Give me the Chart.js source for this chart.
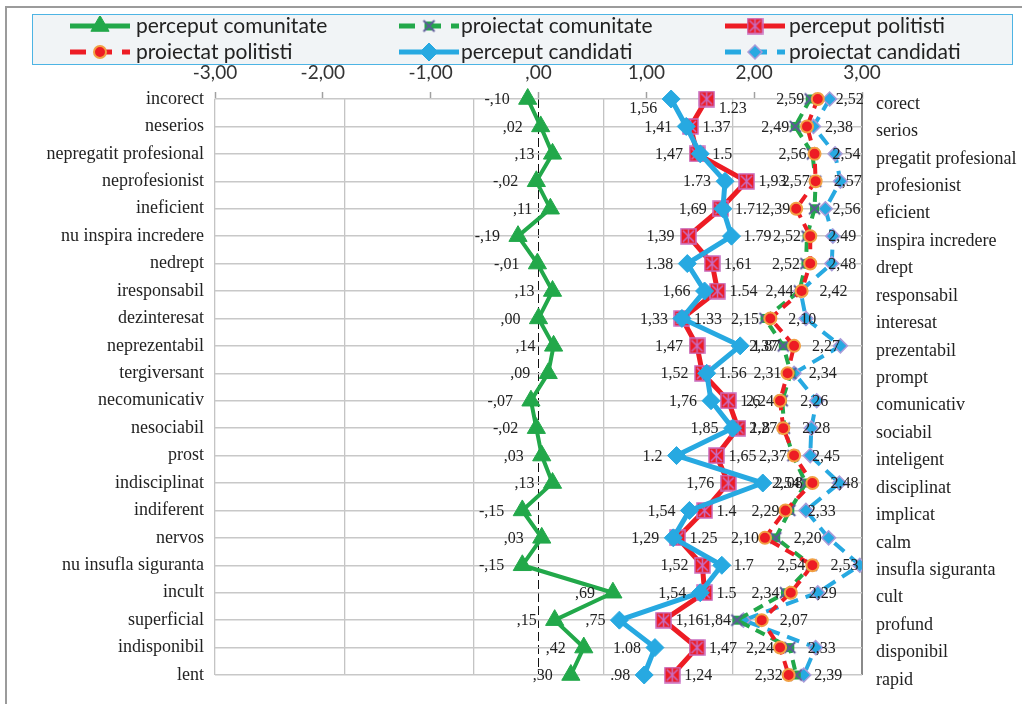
<!DOCTYPE html>
<html>
<head>
<meta charset="utf-8">
<title>Profil semantic</title>
<script src="https://cdn.jsdelivr.net/npm/chart.js@4.4.1/dist/chart.umd.min.js"></script>
<style>
    body { margin: 0; background: #fff; }
    #wrap { position: relative; width: 1022px; height: 704px; overflow: hidden; }
    #frame {
        position: absolute; left: 5px; top: 6px; width: 1040px; height: 740px;
        border-top: 2px solid #9b9b9b; border-left: 2px solid #9b9b9b;
    }
    #chart { position: absolute; left: 0; top: 0; }
    #legend {
        position: absolute; left: 32px; top: 14px; width: 981px; height: 51px;
        box-sizing: border-box; border: 1.5px solid #4db4e4; background: #f1f4f6;
        font-family: Lato, "Open Sans", sans-serif; font-size: 21px; color: #222;
    }
    .legend-item { position: absolute; height: 24px; }
    .legend-item canvas { position: absolute; left: 0; top: 1px; }
    .legend-item span { position: absolute; top: -2px; line-height: 24px; white-space: nowrap; }
</style>
</head>
<body>
<div id="wrap">
    <div id="frame"></div>
    <canvas id="chart" width="1022" height="704"></canvas>
    <div id="legend"></div>
</div>
<script>
// --- Date ---
const leftLabels = ['incorect', 'neserios', 'nepregatit profesional', 'neprofesionist', 'ineficient',
    'nu inspira incredere', 'nedrept', 'iresponsabil', 'dezinteresat', 'neprezentabil', 'tergiversant',
    'necomunicativ', 'nesociabil', 'prost', 'indisciplinat', 'indiferent', 'nervos',
    'nu insufla siguranta', 'incult', 'superficial', 'indisponibil', 'lent'];
const rightLabels = ['corect', 'serios', 'pregatit profesional', 'profesionist', 'eficient',
    'inspira incredere', 'drept', 'responsabil', 'interesat', 'prezentabil', 'prompt',
    'comunicativ', 'sociabil', 'inteligent', 'disciplinat', 'implicat', 'calm',
    'insufla siguranta', 'cult', 'profund', 'disponibil', 'rapid'];

const xTicks = [-3, -2, -1, 0, 1, 2, 3];

const percComunitate = [-0.10, 0.02, 0.13, -0.02, 0.11, -0.19, -0.01, 0.13, 0.00, 0.14, 0.09,
    -0.07, -0.02, 0.03, 0.13, -0.15, 0.03, -0.15, 0.69, 0.15, 0.42, 0.30];
const percPolitisti = [1.56, 1.41, 1.47, 1.93, 1.69, 1.39, 1.61, 1.66, 1.33, 1.47, 1.52,
    1.76, 1.85, 1.65, 1.76, 1.54, 1.29, 1.52, 1.54, 1.16, 1.47, 1.24];
const percCandidati = [1.23, 1.37, 1.50, 1.73, 1.71, 1.79, 1.38, 1.54, 1.33, 1.87, 1.56,
    1.60, 1.80, 1.28, 2.08, 1.40, 1.25, 1.70, 1.50, 0.75, 1.08, 0.98];
const projPolitisti = [2.59, 2.49, 2.56, 2.57, 2.39, 2.52, 2.52, 2.44, 2.15, 2.37, 2.31,
    2.24, 2.27, 2.37, 2.54, 2.29, 2.10, 2.54, 2.34, 2.07, 2.24, 2.32];
const projComunitate = [2.52, 2.38, 2.54, 2.57, 2.56, 2.49, 2.48, 2.42, 2.10, 2.27, 2.34,
    2.26, 2.28, 2.36, 2.48, 2.33, 2.20, 2.53, 2.29, 1.84, 2.33, 2.39];
const projCandidati = [2.70, 2.55, 2.75, 2.80, 2.66, 2.73, 2.72, 2.43, 2.48, 2.80, 2.37,
    2.58, 2.53, 2.52, 2.79, 2.48, 2.69, 2.98, 2.59, 1.90, 2.57, 2.46];

// etichetele scrise pe grafic (asa cum apar in original)
const percLeftText = ['1,56', '1,41', '1,47', '1.73', '1,69', '1,39', '1.38', '1,66', '1,33', '1,47', '1,52',
    '1,76', '1,85', '1.2', '1,76', '1,54', '1,29', '1,52', '1,54', ',75', '1.08', '.98'];
const percRightText = ['1.23', '1.37', '1.5', '1,93', '1.71', '1.79', '1,61', '1.54', '1.33', '1.87', '1.56',
    '1.6', '1.8', '1,65', '2.08', '1.4', '1.25', '1.7', '1.5', '1,16', '1,47', '1,24'];
const projLeftText = ['2,59', '2,49', '2,56', '2,57', '2,39', '2,52', '2,52', '2,44', '2,15', '2,37', '2,31',
    '2,24', '2,27', '2,37', '2,54', '2,29', '2,10', '2,54', '2,34', '1,84', '2,24', '2,32'];
const projRightText = ['2,52', '2,38', '2,54', '2,57', '2,56', '2,49', '2,48', '2,42', '2,10', '2,27', '2,34',
    '2,26', '2,28', '2,45', '2,48', '2,33', '2,20', '2,53', '2,29', '2,07', '2,33', '2,39'];

// --- Culori ---
const GREEN = '#22a84a';
const RED = '#ed1c24';
const BLUE = '#27a9e1';

// markeri desenati pe canvas mic (patrat cu stea, X verde)
function makeMarker(w, h, draw) {
    const c = document.createElement('canvas');
    c.width = w;
    c.height = h;
    draw(c.getContext('2d'));
    return c;
}

const redSquare = makeMarker(17, 17, g => {
    g.fillStyle = RED;
    g.fillRect(1, 1, 15, 15);
    g.strokeStyle = '#c86cc0';
    g.lineWidth = 1.5;
    g.strokeRect(1, 1, 15, 15);
    g.beginPath();
    g.moveTo(3, 3); g.lineTo(14, 14);
    g.moveTo(14, 3); g.lineTo(3, 14);
    g.moveTo(8.5, 2); g.lineTo(8.5, 15);
    g.stroke();
});

const greenCross = makeMarker(15, 15, g => {
    g.fillStyle = GREEN;
    g.fillRect(3, 3, 9, 9);
    g.strokeStyle = '#5d5a98';
    g.lineWidth = 2;
    g.beginPath();
    g.moveTo(2, 2); g.lineTo(13, 13);
    g.moveTo(13, 2); g.lineTo(2, 13);
    g.stroke();
});

function fmtSpss(v) {
    // stil SPSS: -,10 / ,02
    const s = String(Math.round(Math.abs(v) * 100)).padStart(2, '0');
    return (v < 0 ? '-' : '') + ',' + s;
}

function fmtAxis(v) {
    return v === 0 ? ',00' : v.toFixed(2).replace('.', ',');
}

const datasets = [
    {
        label: 'perceput candidati', data: percCandidati,
        borderColor: BLUE, borderWidth: 5,
        pointStyle: 'rectRot', pointRadius: 9, pointBackgroundColor: BLUE, pointBorderColor: BLUE, pointBorderWidth: 1
    },
    {
        label: 'perceput politisti', data: percPolitisti,
        borderColor: RED, borderWidth: 5,
        pointStyle: redSquare, pointRadius: 9
    },
    {
        label: 'perceput comunitate', data: percComunitate,
        borderColor: GREEN, borderWidth: 4,
        pointStyle: 'triangle', pointRadius: 10.5, pointBackgroundColor: GREEN, pointBorderColor: GREEN, pointBorderWidth: 1
    },
    {
        label: 'proiectat politisti', data: projPolitisti,
        borderColor: RED, borderWidth: 4, borderDash: [10, 7],
        pointStyle: 'circle', pointRadius: 6, pointBackgroundColor: RED, pointBorderColor: '#f2a043', pointBorderWidth: 2
    },
    {
        label: 'proiectat comunitate', data: projComunitate,
        borderColor: GREEN, borderWidth: 4, borderDash: [10, 7],
        pointStyle: greenCross, pointRadius: 7
    },
    {
        label: 'proiectat candidati', data: projCandidati,
        borderColor: BLUE, borderWidth: 4, borderDash: [13, 8],
        pointStyle: 'rectRot', pointRadius: 7, pointBackgroundColor: BLUE, pointBorderColor: '#a99bd8', pointBorderWidth: 1.5
    }
];
datasets.forEach(ds => { ds.fill = false; ds.tension = 0; });

// etichetele valorilor, pozitionate fata de punctele desenate
const valueLabels = {
    id: 'valueLabels',
    afterDatasetsDraw(chart) {
        const g = chart.ctx;
        const pts = i => chart.getDatasetMeta(i).data;
        const blue = pts(0), red = pts(1), green = pts(2), redP = pts(3), greenP = pts(4);
        g.save();
        g.font = '16px "Liberation Serif", serif';
        g.fillStyle = '#222';
        g.textBaseline = 'middle';
        for (let i = 0; i < leftLabels.length; i++) {
            const y = green[i].y + 1;
            const dy = i === 0 ? 9 : 0; // primul rand: sub chenar

            g.textAlign = 'right';
            g.fillText(fmtSpss(percComunitate[i]), green[i].x - 18, y);

            const pMin = Math.min(blue[i].x, red[i].x);
            const pMax = Math.max(blue[i].x, red[i].x);
            g.fillText(percLeftText[i], pMin - 14, y + dy);
            g.textAlign = 'left';
            g.fillText(percRightText[i], pMax + 12, y + dy);

            const qMin = Math.min(greenP[i].x, redP[i].x);
            const qMax = Math.max(greenP[i].x, redP[i].x);
            g.textAlign = 'right';
            g.fillText(projLeftText[i], qMin - 6, y);
            g.textAlign = 'left';
            g.fillText(projRightText[i], qMax + 18, y);
        }
        g.restore();
    }
};

const serif = { family: '"Liberation Serif", "Times New Roman", serif', size: 18 };

const chart = new Chart(document.getElementById('chart'), {
    type: 'line',
    data: { labels: leftLabels, datasets: datasets },
    options: {
        responsive: false,
        animation: false,
        indexAxis: 'y',
        layout: { padding: 0 },
        plugins: {
            legend: { display: false },
            tooltip: { enabled: false }
        },
        scales: {
            x: {
                type: 'linear', position: 'top',
                min: xTicks[0], max: xTicks[xTicks.length - 1],
                afterBuildTicks: scale => { scale.ticks = xTicks.map(v => ({ value: v })); },
                afterFit: scale => { scale.height = 99; },
                ticks: {
                    callback: v => fmtAxis(v),
                    font: { family: 'Lato, "Open Sans", sans-serif', size: 19 },
                    color: '#333',
                    padding: 8,
                    maxRotation: 0
                },
                grid: {
                    color: c => (c.tick && c.tick.value === 0 ? '#111' : 'rgba(0,0,0,0)'),
                    lineWidth: 1,
                    tickColor: '#a0a0a0',
                    tickLength: 7,
                    tickWidth: 1.5
                },
                border: { display: false, dash: [9, 4] }
            },
            x2: {
                type: 'linear', position: 'bottom',
                min: 0, max: 5,
                ticks: { display: false, stepSize: 1 },
                afterFit: scale => { scale.height = 29; },
                grid: {
                    drawTicks: false,
                    color: c => (c.tick && c.tick.value === 5 ? '#8a8a8a' : '#c4c4c4'),
                    lineWidth: c => (c.tick && c.tick.value === 5 ? 2 : 1.3)
                },
                border: { display: false }
            },
            y: {
                type: 'category', position: 'left', offset: false,
                afterFit: scale => { scale.width = 215; },
                ticks: { font: serif, color: '#222', padding: 11, autoSkip: false },
                grid: { color: '#c8c8c8', lineWidth: 1.5, drawTicks: false },
                border: { display: false }
            },
            y2: {
                type: 'category', position: 'right', offset: false,
                labels: rightLabels,
                afterFit: scale => { scale.width = 160; },
                ticks: { font: serif, color: '#222', padding: 14, labelOffset: 5, autoSkip: false },
                grid: { display: false, drawTicks: false },
                border: { display: false }
            }
        }
    },
    plugins: [valueLabels]
});

// --- Legenda HTML (3 coloane x 2 randuri) ---
function renderLegend() {
    const box = document.getElementById('legend');
    const order = [2, 4, 1, 3, 0, 5];
    const textX = [103, 428, 756];
    const sampleX = [36, 365, 691];
    const rowY = [0, 26];
    box.innerHTML = '';
    order.forEach((dsIndex, k) => {
        const ds = chart.data.datasets[dsIndex];
        const col = k % 3, row = Math.floor(k / 3);
        const item = document.createElement('div');
        item.className = 'legend-item';
        item.style.left = sampleX[col] + 'px';
        item.style.top = rowY[row] + 'px';

        const c = document.createElement('canvas');
        c.width = 62;
        c.height = 20;
        const g = c.getContext('2d');
        g.strokeStyle = ds.borderColor;
        g.lineWidth = 5;
        g.setLineDash(ds.borderDash ? [16, 10] : []);
        g.beginPath();
        g.moveTo(1, 10);
        g.lineTo(61, 10);
        g.stroke();
        g.setLineDash([]);
        g.fillStyle = ds.pointBackgroundColor || ds.borderColor;
        g.strokeStyle = ds.pointBorderColor || ds.borderColor;
        g.lineWidth = ds.pointBorderWidth || 0;
        Chart.helpers.drawPoint(g, {
            pointStyle: ds.pointStyle, radius: ds.pointRadius,
            borderWidth: ds.pointBorderWidth || 0, rotation: 0
        }, 31, 10);
        item.appendChild(c);

        const span = document.createElement('span');
        span.style.left = (textX[col] - sampleX[col]) + 'px';
        span.textContent = ds.label;
        item.appendChild(span);
        box.appendChild(item);
    });
}
renderLegend();
</script>
</body>
</html>
